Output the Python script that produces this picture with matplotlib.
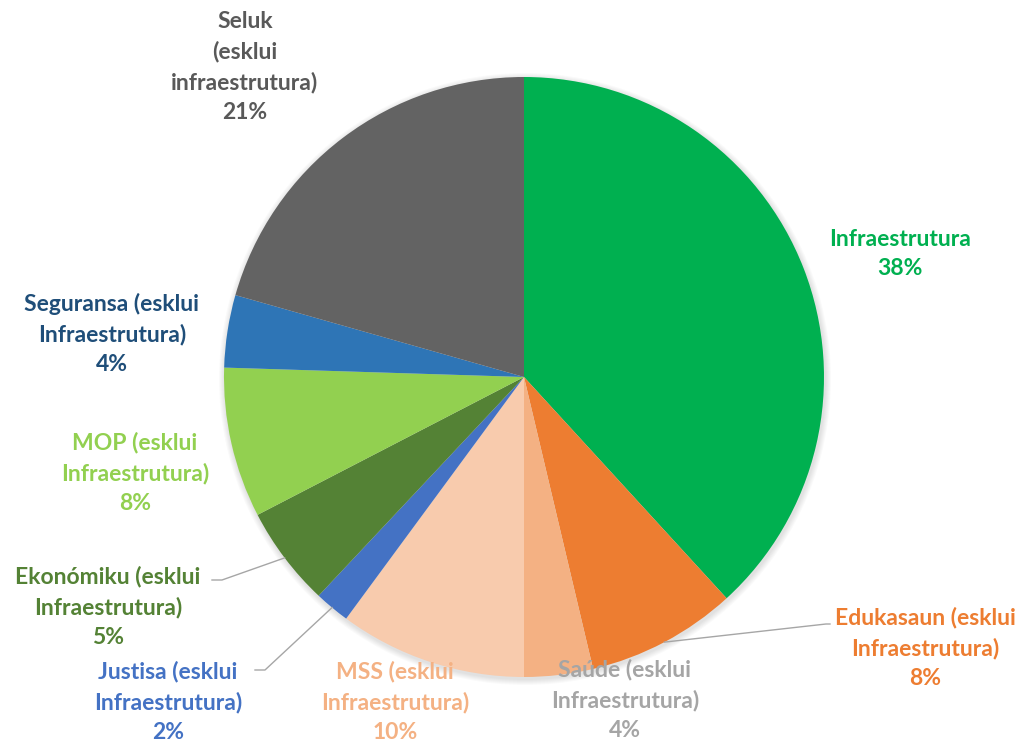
import numpy as np
import matplotlib.pyplot as plt

# slices, clockwise from 12 o'clock
labels = ["Infraestrutura",
          "Edukasaun (esklui\nInfraestrutura)",
          "Saúde (esklui\nInfraestrutura)",
          "MSS (esklui\nInfraestrutura)",
          "Justisa (esklui\nInfraestrutura)",
          "Ekonómiku (esklui\nInfraestrutura)",
          "MOP (esklui\nInfraestrutura)",
          "Seguransa (esklui\nInfraestrutura)",
          "Seluk\n(esklui\ninfraestrutura)"]
shares = [38.2, 8.1, 3.7, 10.1, 1.9, 5.4, 8.1, 3.9, 20.6]

colors = ["#00B050", "#ED7D31", "#F4B183", "#F8CBAD", "#4472C4",
          "#548235", "#92D050", "#2E75B6", "#636363"]
text_colors = ["#00B050", "#ED7D31", "#A5A5A5", "#F4B183", "#4472C4",
               "#548235", "#92D050", "#1F4E79", "#595959"]

# label block centres in pixels (x, y from top)
label_px = [(900, 254), (925, 648), (625, 700), (395, 702), (168, 702),
            (108, 607), (135, 473), (112, 334), (245, 67)]
# labels that get a leader line: index -> line end near text (pixels)
leaders = {1: (830, 624), 4: (255, 670), 5: (212, 580)}

W, H = 1023, 742
cx, cy, r = 524, 377, 300

fig = plt.figure(figsize=(W / 100, H / 100), dpi=100)
ax = fig.add_axes([0, 0, 1, 1])

# soft shadow
for k in range(6):
    ax.add_patch(plt.Circle((cx + 1, H - cy - 2), r + 6 - k, color="#000000",
                            alpha=0.018, lw=0, zorder=0))

wedges, _ = ax.pie(shares, colors=colors, startangle=90, counterclock=False,
                   center=(cx, H - cy), radius=r, frame=True,
                   wedgeprops=dict(linewidth=0, zorder=1))

for i, (lab, v) in enumerate(zip(labels, shares)):
    x, y = label_px[i]
    ax.text(x, H - y, f"{lab}\n{v:.0f}%", ha="center", va="center",
            fontsize=16.5, fontweight="bold", family="Lato",
            color=text_colors[i], linespacing=1.5, zorder=3)

for i, (ex, ey) in leaders.items():
    w = wedges[i]
    mid = np.deg2rad((w.theta1 + w.theta2) / 2)
    px = cx + r * np.cos(mid)
    py = H - cy + r * np.sin(mid)
    if ex > cx:
        xs, ys = [px, ex - 4, ex], [py, H - ey, H - ey]
    else:
        xs, ys = [px, ex + 10, ex], [py, H - ey, H - ey]
    ax.plot(xs, ys, color="#A6A6A6", lw=1, zorder=2)

ax.set_xlim(0, W)
ax.set_ylim(0, H)
ax.set_aspect("equal")
ax.axis("off")

fig.savefig("out.png", dpi=100, facecolor="white")
